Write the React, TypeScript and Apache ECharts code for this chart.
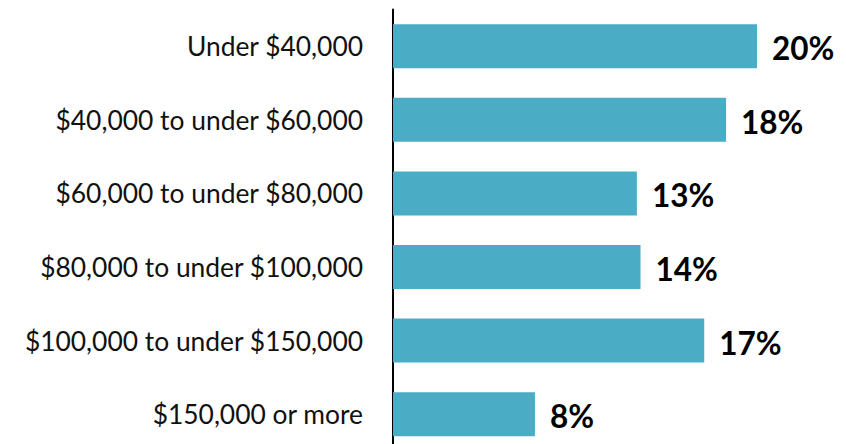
import React, { useEffect, useRef } from "react";
import * as echarts from "echarts";

const categories = [
  "Under $40,000",
  "$40,000 to under $60,000",
  "$60,000 to under $80,000",
  "$80,000 to under $100,000",
  "$100,000 to under $150,000",
  "$150,000 or more",
];
const shares = [20.0, 18.3, 13.4, 13.6, 17.1, 7.8];

export default function App() {
  const ref = useRef<HTMLDivElement>(null);
  useEffect(() => {
    if (!ref.current) return;
    const chart = echarts.init(ref.current, null, { renderer: "svg" });
    chart.setOption({
      animation: false,
      backgroundColor: "#ffffff",
      grid: {
        left: 393,
        width: 436.8,
        top: 9.4,
        height: 441.6,
        containLabel: false,
        outerBoundsMode: "none",
      },
      xAxis: {
        type: "value",
        min: 0,
        max: 24,
        show: false,
      },
      yAxis: {
        type: "category",
        data: categories,
        inverse: true,
        axisLine: { show: true, lineStyle: { color: "#000000", width: 2 } },
        axisTick: { show: false },
        axisLabel: {
          margin: 30,
          color: "#111111",
          fontFamily: "Lato",
          fontSize: 26.4,
        },
      },
      series: [
        {
          type: "bar",
          data: shares,
          barWidth: 44,
          itemStyle: { color: "#4BACC6" },
          label: {
            show: true,
            position: "right",
            distance: 15,
            color: "#000000",
            fontFamily: "Lato",
            fontWeight: "bold",
            fontSize: 31.5,
            formatter: (p: any) => Math.round(p.value) + "%",
            offset: [0, 2],
          },
        },
      ],
    });
    return () => chart.dispose();
  }, []);
  return (
    <div
      ref={ref}
      style={{ position: "fixed", left: 0, top: 0, width: 846, height: 444 }}
    />
  );
}
